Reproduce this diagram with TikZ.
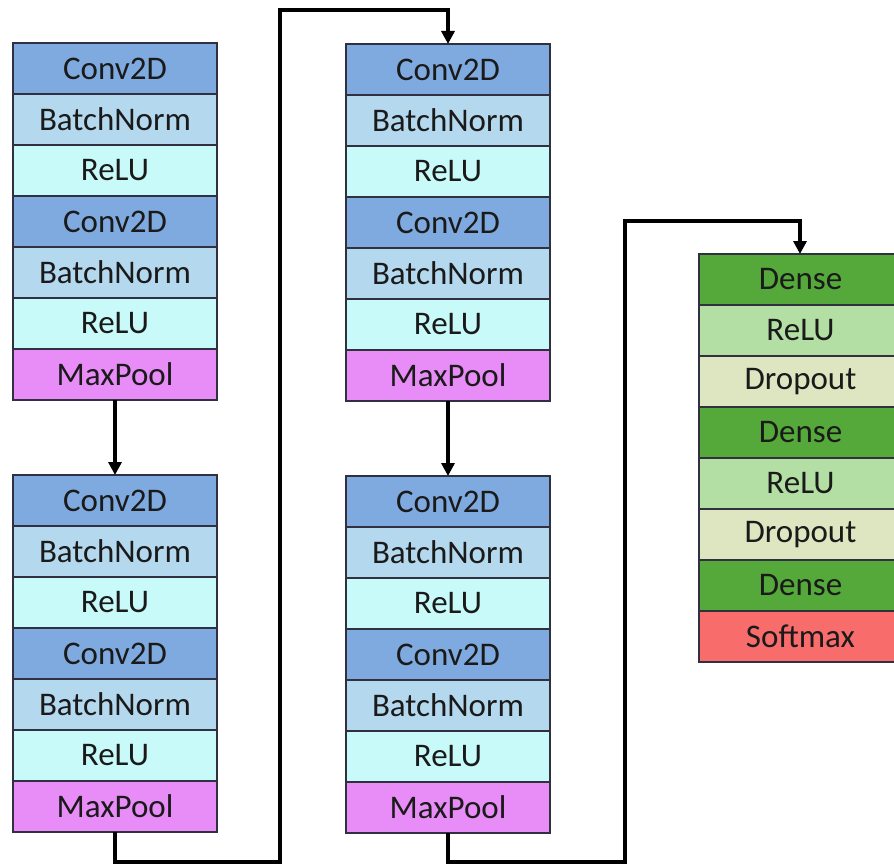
\documentclass[tikz,border=0pt]{standalone}
\usepackage{fontspec}
\setmainfont{Carlito}
\usetikzlibrary{arrows.meta}
\definecolor{convc}{HTML}{7FAAE0}
\definecolor{bnc}{HTML}{B4D8EE}
\definecolor{reluc}{HTML}{C9FAFA}
\definecolor{poolc}{HTML}{E88CF8}
\definecolor{densec}{HTML}{55A83A}
\definecolor{greluc}{HTML}{B3DEA4}
\definecolor{dropc}{HTML}{DDE6C0}
\definecolor{softc}{HTML}{F86C6C}
\definecolor{edgec}{HTML}{303040}
\definecolor{textc}{HTML}{1A1A1A}
\tikzset{
  cell/.style={draw=edgec, line width=1.4pt, minimum width=204pt, minimum height=51pt,
    inner sep=0pt, outer sep=0pt, anchor=north west, text=textc,
    font=\fontsize{33}{36}\selectfont},
  link/.style={line width=3.6pt, -{Triangle[length=13pt,width=13pt]}},
}
\begin{document}
\begin{tikzpicture}[x=1pt,y=-1pt]
\useasboundingbox (0,0) rectangle (894,864);
\clip (0,0) rectangle (894,864);
% block 1
\node[cell,fill=convc] (a1) at (13,43) {Conv2D};
\node[cell,fill=bnc] (a2) at (13,94) {BatchNorm};
\node[cell,fill=reluc] (a3) at (13,145) {ReLU};
\node[cell,fill=convc] (a4) at (13,196) {Conv2D};
\node[cell,fill=bnc] (a5) at (13,247) {BatchNorm};
\node[cell,fill=reluc] (a6) at (13,298) {ReLU};
\node[cell,fill=poolc] (a7) at (13,349) {MaxPool};
% block 2
\node[cell,fill=convc] (b1) at (13,475) {Conv2D};
\node[cell,fill=bnc] (b2) at (13,526) {BatchNorm};
\node[cell,fill=reluc] (b3) at (13,577) {ReLU};
\node[cell,fill=convc] (b4) at (13,628) {Conv2D};
\node[cell,fill=bnc] (b5) at (13,679) {BatchNorm};
\node[cell,fill=reluc] (b6) at (13,730) {ReLU};
\node[cell,fill=poolc] (b7) at (13,781) {MaxPool};
% block 3
\node[cell,fill=convc] (c1) at (346,44) {Conv2D};
\node[cell,fill=bnc] (c2) at (346,95) {BatchNorm};
\node[cell,fill=reluc] (c3) at (346,146) {ReLU};
\node[cell,fill=convc] (c4) at (346,197) {Conv2D};
\node[cell,fill=bnc] (c5) at (346,248) {BatchNorm};
\node[cell,fill=reluc] (c6) at (346,299) {ReLU};
\node[cell,fill=poolc] (c7) at (346,350) {MaxPool};
% block 4
\node[cell,fill=convc] (d1) at (346,476) {Conv2D};
\node[cell,fill=bnc] (d2) at (346,527) {BatchNorm};
\node[cell,fill=reluc] (d3) at (346,578) {ReLU};
\node[cell,fill=convc] (d4) at (346,629) {Conv2D};
\node[cell,fill=bnc] (d5) at (346,680) {BatchNorm};
\node[cell,fill=reluc] (d6) at (346,731) {ReLU};
\node[cell,fill=poolc] (d7) at (346,782) {MaxPool};
% block 5
\tikzset{dcell/.style={cell,text width=195pt,minimum width=203pt,align=center}}
\node[dcell,fill=densec] (e1) at (699,254) {Dense};
\node[dcell,fill=greluc] (e2) at (699,305) {ReLU};
\node[dcell,fill=dropc] (e3) at (699,356) {Dropout};
\node[dcell,fill=densec] (e4) at (699,407) {Dense};
\node[dcell,fill=greluc] (e5) at (699,458) {ReLU};
\node[dcell,fill=dropc] (e6) at (699,509) {Dropout};
\node[dcell,fill=densec] (e7) at (699,560) {Dense};
\node[dcell,fill=softc] (e8) at (699,611) {Softmax};
% connectors
\coordinate (p1) at (115,862);
\coordinate (p2) at (280,862);
\coordinate (p3) at (280,10);
\coordinate (p4) at (448,10);
\coordinate (q1) at (448,862);
\coordinate (q2) at (625,862);
\coordinate (q3) at (625,221);
\coordinate (q4) at (800,221);
\draw[link] (a7.south) -- (b1.north);
\draw[link] (c7.south) -- (d1.north);
\draw[link,line join=miter] (b7.south) -- (p1) -- (p2) -- (p3) -- (p4) -- (c1.north);
\draw[link,line join=miter] (d7.south) -- (q1) -- (q2) -- (q3) -- (q4) -- (e1.north -| q4);
\end{tikzpicture}
\end{document}
